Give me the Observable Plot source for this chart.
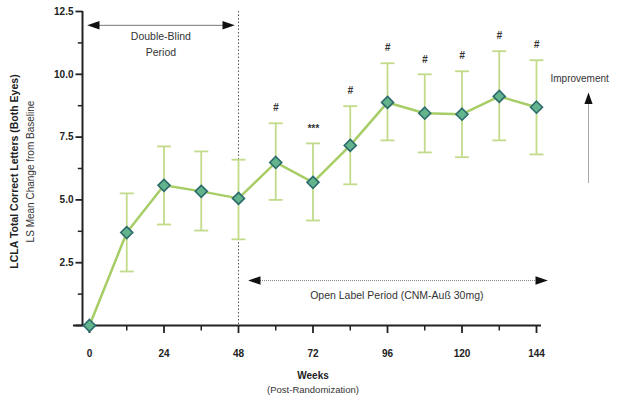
<!DOCTYPE html>
<html>
<head>
<meta charset="utf-8">
<script src="https://cdn.jsdelivr.net/npm/d3@7"></script>
<script src="https://cdn.jsdelivr.net/npm/@observablehq/plot@0.6"></script>
<style>
  html, body { margin: 0; padding: 0; background: #fff; }
  #chart svg { display: block; }
</style>
</head>
<body>
<div id="chart"></div>
<script>
// LS mean change from baseline in LCLA total correct letters, with error bars
const weeks = [0, 12, 24, 36, 48, 60, 72, 84, 96, 108, 120, 132, 144];
const means = [0, 3.7, 5.58, 5.34, 5.06, 6.49, 5.7, 7.17, 8.88, 8.45, 8.41, 9.12, 8.69];
const upper = [0, 5.26, 7.13, 6.93, 6.6, 8.05, 7.25, 8.73, 10.44, 10.0, 10.12, 10.92, 10.56];
const lower = [0, 2.15, 4.02, 3.78, 3.43, 5.0, 4.18, 5.62, 7.37, 6.89, 6.7, 7.37, 6.81];

// significance markers shown above the open-label visits
const sigWeeks = [60, 72, 84, 96, 108, 120, 132, 144];
const sigMarks = ["#", "***", "#", "#", "#", "#", "#", "#"];

// axis ticks
const xMajor = [0, 24, 48, 72, 96, 120, 144];
const xMinor = [12, 36, 60, 84, 108, 132];
const yMajor = [0, 2.5, 5, 7.5, 10, 12.5];
const yMinor = [1.25, 3.75, 6.25, 8.75, 11.25];
const yTickLabels = ["", "2.5", "5.0", "7.5", "10.0", "12.5"];

const rows = weeks.map((w, i) => ({week: w, mean: means[i], hi: upper[i], lo: lower[i]}));
const sigRows = sigWeeks.map((w, i) => ({week: w, mark: sigMarks[i], hi: upper[weeks.indexOf(w)]}));
const yTickRows = yMajor.map((v, i) => ({v, label: yTickLabels[i]}));

// custom symbols: short line segments for ticks/caps, slim arrowhead pointing up
const hline = {draw(ctx, size) { const h = Math.sqrt(size / Math.PI); ctx.moveTo(-h, 0); ctx.lineTo(h, 0); }};
const vline = {draw(ctx, size) { const h = Math.sqrt(size / Math.PI); ctx.moveTo(0, -h); ctx.lineTo(0, h); }};
const head = {draw(ctx, size) {
  const s = Math.sqrt(size / Math.PI);
  ctx.moveTo(0, -s); ctx.lineTo(0.68 * s, 0.95 * s); ctx.lineTo(-0.68 * s, 0.95 * s); ctx.closePath();
}};

const ink = "#222";
const font = "Liberation Sans, Arial, sans-serif";

const chart = Plot.plot({
  width: 623,
  height: 405,
  marginLeft: 89,
  marginRight: 87,
  marginTop: 11,
  marginBottom: 80,
  style: {fontFamily: font, background: "#fff", overflow: "visible"},
  x: {domain: [0, 144], axis: null},
  y: {domain: [0, 12.5], axis: null},
  marks: [
    // period divider at week 48
    Plot.ruleX([48], {stroke: "#555", strokeWidth: 1, strokeDasharray: "1.5,2"}),

    // double-blind period arrow
    Plot.ruleY([11.95], {x1: 0, x2: 48, insetLeft: 4, insetRight: 10, stroke: "#777", strokeWidth: 1}),
    Plot.dot([0], {x: d => d, y: 11.95, dx: 4, symbol: head, r: 6.3, rotate: -90, fill: "#111", stroke: "none"}),
    Plot.dot([48], {x: d => d, y: 11.95, dx: -10, symbol: head, r: 6.3, rotate: 90, fill: "#111", stroke: "none"}),
    Plot.text(["Double-Blind"], {x: 23, y: 11.5, fontSize: 10.5, fill: "#333", text: d => d}),
    Plot.text(["Period"], {x: 23, y: 10.87, fontSize: 10.5, fill: "#333", text: d => d}),

    // open-label period arrow
    Plot.ruleY([1.79], {x1: 48, x2: 144, insetLeft: 16, insetRight: -6, stroke: "#888", strokeWidth: 1, strokeDasharray: "1,1"}),
    Plot.dot([48], {x: d => d, y: 1.79, dx: 16, symbol: head, r: 6.3, rotate: -90, fill: "#111", stroke: "none"}),
    Plot.dot([144], {x: d => d, y: 1.79, dx: 5, symbol: head, r: 6.3, rotate: 90, fill: "#111", stroke: "none"}),
    Plot.text(["Open Label Period (CNM-Auß 30mg)"], {x: 99, y: 1.2, fontSize: 10.5, fill: "#333", text: d => d}),

    // improvement direction
    Plot.text(["Improvement"], {x: 144, y: 9.84, dx: 14, textAnchor: "start", fontSize: 10, fill: "#333", text: d => d}),
    Plot.ruleX([144], {y1: 5.65, y2: 9.0, dx: 52, stroke: "#aaa", strokeWidth: 1}),
    Plot.dot([144], {x: d => d, y: 9.04, dx: 52, symbol: head, r: 6, fill: "#111", stroke: "none"}),

    // error bars
    Plot.ruleX(rows, {x: "week", y1: "lo", y2: "hi", stroke: "#c1db8a", strokeWidth: 1.8, filter: d => d.hi > d.lo}),
    Plot.dot(rows, {x: "week", y: "hi", symbol: hline, r: 7, fill: "none", stroke: "#c1db8a", strokeWidth: 1.8, filter: d => d.hi > d.lo}),
    Plot.dot(rows, {x: "week", y: "lo", symbol: hline, r: 7, fill: "none", stroke: "#c1db8a", strokeWidth: 1.8, filter: d => d.hi > d.lo}),

    // mean line
    Plot.line(rows, {x: "week", y: "mean", stroke: "#a6cd66", strokeWidth: 2.5}),

    // axes
    Plot.ruleX([0], {dx: -7, stroke: ink, strokeWidth: 2}),
    Plot.ruleY([0], {insetLeft: -16, insetRight: -5, stroke: ink, strokeWidth: 2.2}),
    Plot.dot(yMajor, {x: 0, y: d => d, dx: -10.5, symbol: hline, r: 3.5, fill: "none", stroke: ink, strokeWidth: 1.8}),
    Plot.dot(yMinor, {x: 0, y: d => d, dx: -9.5, symbol: hline, r: 2.2, fill: "none", stroke: ink, strokeWidth: 1.5}),
    Plot.text(yTickRows, {x: 0, y: "v", text: "label", dx: -16, textAnchor: "end", fontSize: 10, fontWeight: "bold", fill: ink}),
    Plot.dot(xMajor, {x: d => d, y: 0, dy: 4, symbol: vline, r: 3.5, fill: "none", stroke: ink, strokeWidth: 1.8}),
    Plot.dot(xMinor, {x: d => d, y: 0, dy: 2.5, symbol: vline, r: 2.5, fill: "none", stroke: ink, strokeWidth: 1.5}),
    Plot.text(xMajor, {x: d => d, y: 0, text: d => String(d), dy: 28, fontSize: 10, fontWeight: "bold", fill: ink}),

    // mean markers
    Plot.dot(rows, {x: "week", y: "mean", symbol: "diamond2", r: 5.4, fill: "#63b48d", stroke: "#2c6b6c", strokeWidth: 1.6}),

    // significance markers
    Plot.text(sigRows, {x: "week", y: "hi", text: "mark", dy: -15, fontSize: 10, fontWeight: "bold", fontStyle: "italic", fill: "#333"}),

    // axis titles
    Plot.text(["LCLA Total Correct Letters (Both Eyes)"], {frameAnchor: "left", textAnchor: "middle", dx: -75, dy: 3, rotate: -90, text: d => d, fontSize: 10.5, fontWeight: "bold", fill: ink}),
    Plot.text(["LS Mean Change from Baseline"], {frameAnchor: "left", textAnchor: "middle", dx: -59, dy: 3, rotate: -90, text: d => d, fontSize: 10, fill: "#333"}),
    Plot.text(["Weeks"], {frameAnchor: "bottom", dy: 53, text: d => d, fontSize: 10, fontWeight: "bold", fill: ink}),
    Plot.text(["(Post-Randomization)"], {frameAnchor: "bottom", dy: 67, text: d => d, fontSize: 9.5, fill: "#333"})
  ]
});

document.getElementById("chart").appendChild(chart);
</script>
</body>
</html>
